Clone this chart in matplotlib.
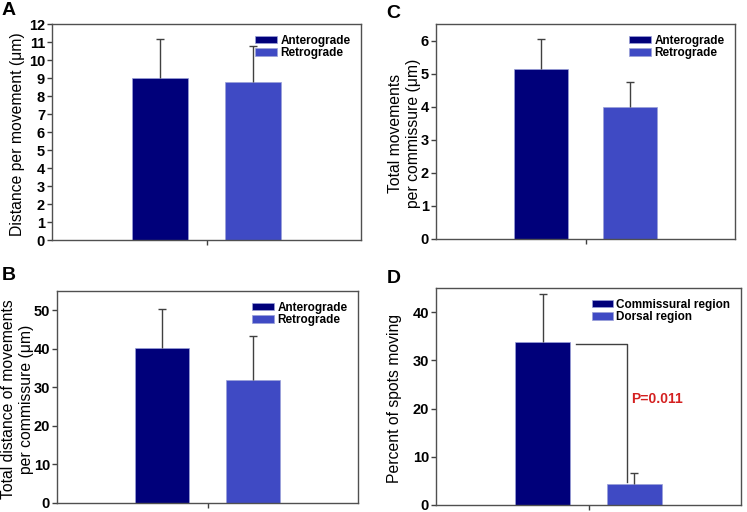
import matplotlib
matplotlib.use('Agg')
import matplotlib.pyplot as plt

plt.rcParams['font.family'] = ['Liberation Sans', 'DejaVu Sans']

# data
ab_labels = ['Anterograde', 'Retrograde']
region_labels = ['Commissural region', 'Dorsal region']

a_mean = [9.0, 8.8]
a_err = [2.15, 2.0]
b_mean = [40.2, 31.9]
b_err = [10.1, 11.4]
c_mean = [5.15, 4.0]
c_err = [0.9, 0.75]
d_mean = [33.8, 4.4]
d_err = [10.0, 2.3]
p_text = 'P=0.011'

colors = ['#00007a', '#3f4ac4']
W, H = 747, 512


def px_axes(fig, left, top, right, bottom):
    return fig.add_axes([left / W, 1 - bottom / H, (right - left) / W, (bottom - top) / H])


def bar_panel(ax, means, errs, labels, ylim, yticks, ylabel, label_x):
    pos = [0.35, 0.65]
    width = 0.18
    for i in range(2):
        ax.bar(pos[i], means[i], width=width, color=colors[i], label=labels[i],
               edgecolor='#9aa0d8', linewidth=0.5, zorder=2)
        eb = ax.errorbar(pos[i], means[i], yerr=[[0], [errs[i]]], fmt='none',
                         ecolor='#404040', elinewidth=1, capsize=3, capthick=1, zorder=3)
        eb[1][0].set_visible(False)  # no cap at the bar top
    ax.set_xlim(0, 1)
    ax.set_ylim(*ylim)
    ax.set_yticks(yticks)
    ax.set_xticks([0.5])
    ax.set_xticklabels([''])
    ax.tick_params(axis='both', direction='out', length=3.5, width=1, color='#404040', pad=1.5)
    for lab in ax.get_yticklabels():
        lab.set_fontweight('bold')
        lab.set_fontsize(10.5)
    for sp in ax.spines.values():
        sp.set_color('#505050')
        sp.set_linewidth(1)
    ax.set_ylabel(ylabel, fontsize=11.3, va='center', linespacing=1.25)
    ax.yaxis.set_label_coords(label_x, 0.49)
    ax.legend(loc='upper right', frameon=False, prop={'weight': 'bold', 'size': 8.5},
              handlelength=1.8, handleheight=0.6, labelspacing=0.05,
              handletextpad=0.3, borderaxespad=0.5)
    return pos, width


fig = plt.figure(figsize=(W / 100, H / 100), dpi=100)

axA = px_axes(fig, 52, 24, 361, 240)
bar_panel(axA, a_mean, a_err, ab_labels, (0, 12), range(0, 13),
          'Distance per movement (\u03bcm)', -0.113)

axC = px_axes(fig, 436, 24, 735, 239)
bar_panel(axC, c_mean, c_err, ab_labels, (0, 6.5), range(0, 7),
          'Total movements\nper commissure (\u03bcm)', -0.107)

axB = px_axes(fig, 57, 291, 358, 503)
bar_panel(axB, b_mean, b_err, ab_labels, (0, 55), range(0, 51, 10),
          'Total distance of movements\nper commissure (\u03bcm)', -0.132)

axD = px_axes(fig, 436, 288, 741, 505)
pos, width = bar_panel(axD, d_mean, d_err, region_labels, (0, 45), range(0, 41, 10),
                       'Percent of spots moving', -0.136)

# significance bracket
x0 = pos[0] + width / 2 + 0.02
x1 = pos[1] - 0.025
axD.plot([x0, x1, x1], [d_mean[0] - 0.5, d_mean[0] - 0.5, d_mean[1] + 0.4],
         color='#404040', lw=1, zorder=4)
axD.text(x1 + 0.015, 22, p_text, color='#d42020', fontsize=10, fontweight='bold',
         ha='left', va='center')

for letter, x, y in [('A', 2, 2), ('C', 386, 5), ('B', 2, 267), ('D', 387, 270)]:
    fig.text(x / W, 1 - y / H, letter, fontsize=14, fontweight='bold', ha='left', va='top')

fig.savefig('out.png', dpi=100)
